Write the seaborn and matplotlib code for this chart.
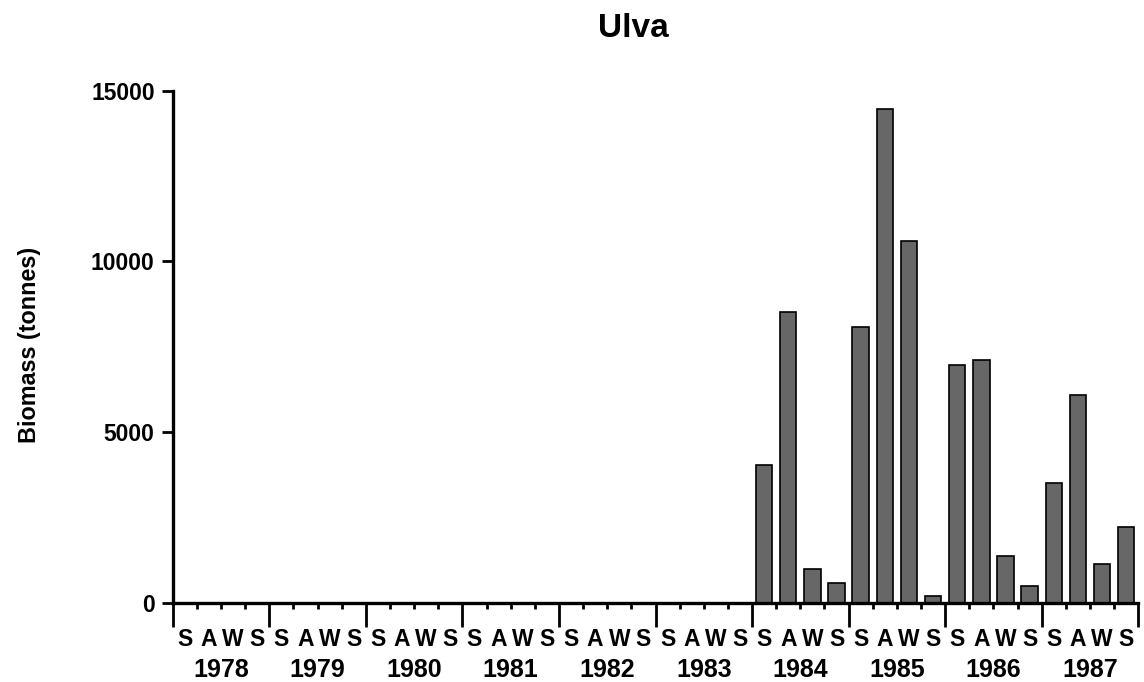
#!/usr/bin/env python3

import pandas as pd
import seaborn as sns
from matplotlib import pyplot as plt

years = [1978, 1979, 1980, 1981, 1982, 1983, 1984, 1985, 1986, 1987]
seasons = ['S', 'A', 'W', 'S']

# biomass (tonnes) per season, S A W S for each year
biomass = {
    1978: [0, 0, 0, 0],
    1979: [0, 0, 0, 0],
    1980: [0, 0, 0, 0],
    1981: [0, 0, 0, 0],
    1982: [0, 0, 0, 0],
    1983: [0, 0, 0, 0],
    1984: [4050, 8530, 1000, 570],
    1985: [8090, 14450, 10600, 200],
    1986: [6970, 7120, 1360, 490],
    1987: [3510, 6100, 1140, 2230],
}

y_ticks = [0, 5000, 10000, 15000]


def plot(out_file):
    rows = []
    for y in years:
        for i, s in enumerate(seasons):
            rows.append({'slot': f'{y}-{i}', 'season': s, 'year': y,
                         'biomass': biomass[y][i]})
    df = pd.DataFrame(rows)

    sns.set_theme(style='ticks')
    plt.rcParams['font.family'] = ['Liberation Sans', 'DejaVu Sans']
    plt.rcParams['font.weight'] = 'bold'
    plt.rcParams['text.color'] = 'black'

    f = plt.figure(figsize=(11.44, 6.82), dpi=100)
    ax = f.add_axes([0.151, 0.116, 0.844, 0.751])

    sns.barplot(data=df, x='slot', y='biomass', order=list(df['slot']),
                color='#676767', saturation=1, width=0.68,
                edgecolor='black', linewidth=1.2, ax=ax)

    n = len(df)
    ax.set_xlim(-0.5, n - 0.5)
    ax.set_ylim(0, 15000)

    for side in ['top', 'right']:
        ax.spines[side].set_visible(False)
    for side in ['left', 'bottom']:
        ax.spines[side].set_linewidth(2.4)
        ax.spines[side].set_color('black')

    # y axis
    ax.set_yticks(y_ticks, [str(t) for t in y_ticks])
    ax.tick_params(axis='y', length=8, width=2, labelsize=16.5, pad=5,
                   colors='black')
    for lab in ax.get_yticklabels():
        lab.set_fontweight('bold')
    ax.set_ylabel('')
    f.text(0.026, 0.494, 'Biomass (tonnes)', rotation=90, ha='center',
           va='center', fontsize=16.8, fontweight='bold', color='black')
    ax.set_xlabel('')

    # season labels at bar centres, season boundaries as short ticks
    ax.set_xticks(range(n), list(df['season']))
    ax.tick_params(axis='x', which='major', length=0, labelsize=16.5, pad=18,
                   colors='black')
    for lab in ax.get_xticklabels():
        lab.set_fontweight('bold')
    inner = [k - 0.5 for k in range(n + 1) if k % 4 != 0]
    ax.set_xticks(inner, minor=True)
    ax.tick_params(axis='x', which='minor', length=4.5, width=2,
                   colors='black')

    # year boundaries as long ticks, year labels under each block
    sec = ax.secondary_xaxis('bottom')
    sec.spines['bottom'].set_visible(False)
    sec.set_xticks([k - 0.5 for k in range(0, n + 1, 4)],
                   [''] * (len(years) + 1))
    sec.tick_params(axis='x', which='major', length=17, width=2,
                    colors='black')
    centres = [4 * i + 1.5 for i in range(len(years))]
    sec.set_xticks(centres, [str(y) for y in years], minor=True)
    sec.tick_params(axis='x', which='minor', length=0, labelsize=18,
                    pad=40, colors='black')
    for lab in sec.get_xticklabels(minor=True):
        lab.set_fontweight('bold')

    f.text(0.554, 0.9457, 'Ulva', ha='center', va='baseline',
           fontsize=24, fontweight='bold', color='black')

    f.savefig(out_file, dpi=100)


if __name__ == '__main__':
    plot('out.png')
